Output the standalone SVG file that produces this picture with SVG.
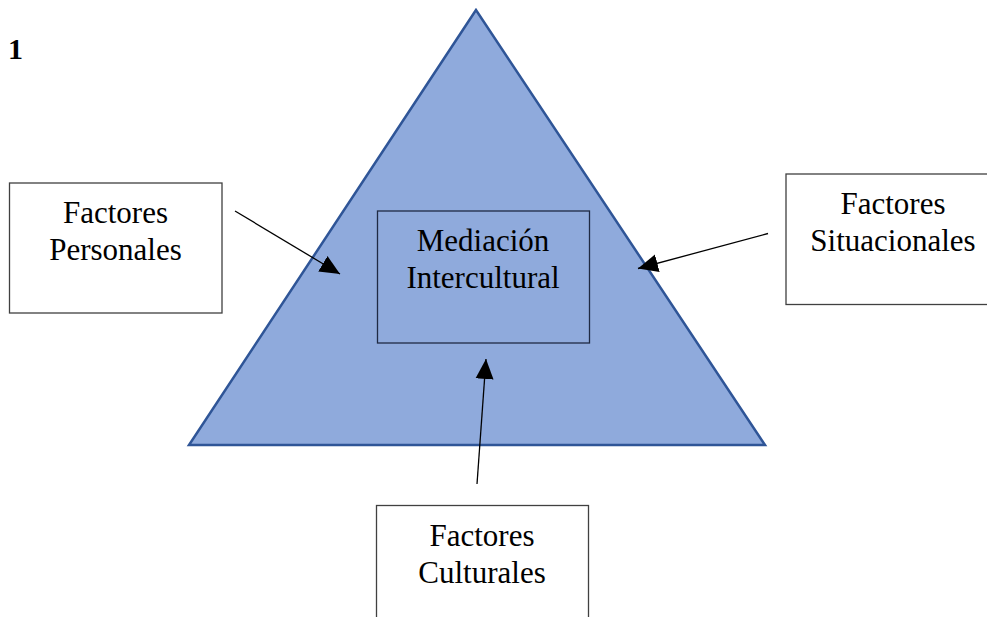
<svg xmlns="http://www.w3.org/2000/svg" width="987" height="617" viewBox="0 0 987 617">
<defs>
<style>
.box{fill:#ffffff;stroke:#404040;stroke-width:1.3}
.lbl{font-family:"Liberation Serif","Times New Roman",serif;font-size:31px;fill:#000;text-anchor:middle}
</style>
<marker id="ah2" viewBox="0 0 10 10" refX="10" refY="5" markerWidth="20" markerHeight="20" markerUnits="userSpaceOnUse" orient="auto"><path d="M0,0.5 L10,5 L0,9.5 z" fill="#000"/></marker>
</defs>
<rect width="987" height="617" fill="#ffffff"/>
<text x="8" y="59" font-family="Liberation Serif, serif" font-weight="bold" font-size="30">1</text>
<g id="triangle">
<polygon points="476,10 189,445 765,445" fill="#8FAADC" stroke="#2F5597" stroke-width="2.5" stroke-linejoin="miter"/>
</g>
<g id="mediacion">
<rect x="377.5" y="211" width="212" height="132" fill="none" stroke="#1F2A44" stroke-width="1.3"/>
<text class="lbl" x="483" y="251">Mediación</text>
<text class="lbl" x="483" y="288">Intercultural</text>
</g>
<g id="personales">
<rect class="box" x="9.5" y="183" width="212.5" height="130"/>
<text class="lbl" x="115.5" y="223">Factores</text>
<text class="lbl" x="115.5" y="260">Personales</text>
</g>
<g id="situacionales">
<rect class="box" x="786" y="174" width="210" height="130.5"/>
<text class="lbl" x="893" y="214">Factores</text>
<text class="lbl" x="893" y="251">Situacionales</text>
</g>
<g id="culturales">
<rect class="box" x="376.5" y="505.5" width="212" height="130"/>
<text class="lbl" x="482" y="546">Factores</text>
<text class="lbl" x="482" y="583">Culturales</text>
</g>
<g id="connectors">
<line x1="235" y1="211" x2="340" y2="274" stroke="#000" stroke-width="1.3" marker-end="url(#ah2)"/>
<line x1="768" y1="233.5" x2="638" y2="268.5" stroke="#000" stroke-width="1.3" marker-end="url(#ah2)"/>
<line x1="477" y1="484" x2="486" y2="359" stroke="#000" stroke-width="1.3" marker-end="url(#ah2)"/>
</g>
</svg>
